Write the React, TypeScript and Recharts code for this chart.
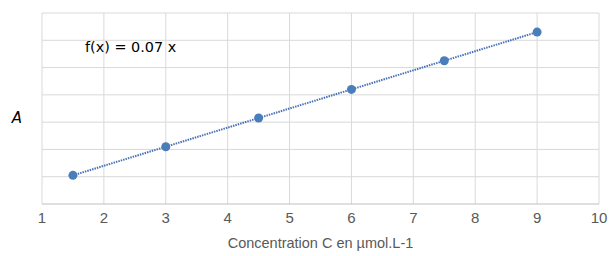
import { ComposedChart, Line, Scatter, XAxis, YAxis, CartesianGrid, ReferenceLine } from 'recharts';

const concentrations = [1.5, 3, 4.5, 6, 7.5, 9];
const absorbances = [0.105, 0.21, 0.315, 0.42, 0.525, 0.63];
const xTicks = [1, 2, 3, 4, 5, 6, 7, 8, 9, 10];
const yTicks = [0, 0.1, 0.2, 0.3, 0.4, 0.5, 0.6, 0.7];
const equation = 'f(x) = 0.07 x';
const xTitle = 'Concentration C en µmol.L-1';
const yTitle = 'A';

const data = concentrations.map((c, i) => ({ c, a: absorbances[i] }));

export default function App() {
  return (
    <div style={{ position: 'absolute', left: 0, top: 0, background: '#fff' }}>
      <ComposedChart width={610} height={256} data={data} margin={{ top: 13, right: 11, left: 0, bottom: 0 }}>
        <CartesianGrid stroke="#d9d9d9" strokeWidth={1} horizontal={false} verticalValues={xTicks} />
        {/* horizontal grid drawn as reference lines, the bottom one is the axis */}
        {yTicks.filter((v) => v > 0).map((v) => (
          <ReferenceLine key={v} y={v} stroke="#d9d9d9" strokeWidth={1} />
        ))}
        <XAxis
          dataKey="c"
          type="number"
          domain={[1, 10]}
          ticks={xTicks}
          interval={0}
          height={52}
          tickLine={false}
          axisLine={{ stroke: '#bfbfbf' }}
          tick={{ fill: '#595959', fontSize: 15, fontFamily: 'Liberation Sans, Arial, sans-serif' }}
          label={{
            value: xTitle,
            position: 'insideBottom',
            offset: 8,
            fill: '#595959',
            fontSize: 14.5,
            fontFamily: 'Liberation Sans, Arial, sans-serif',
          }}
        />
        <YAxis
          type="number"
          domain={[0, 0.7]}
          ticks={yTicks}
          width={42}
          tick={false}
          tickLine={false}
          axisLine={false}
          label={{
            content: () => (
              <text x={17} y={123} textAnchor="middle" fontSize={15} fontStyle="italic" fill="#000"
                fontFamily="DejaVu Sans, sans-serif">
                {yTitle}
              </text>
            ),
          }}
        />
        <Line
          dataKey="a"
          type="linear"
          stroke="#4a72b8"
          strokeWidth={2}
          strokeDasharray="1.5 1"
          dot={false}
          activeDot={false}
          isAnimationActive={false}
        />
        <Scatter dataKey="a" fill="#4a7ebb" shape={(p: any) => <circle cx={p.cx} cy={p.cy} r={4.5} fill="#4a7ebb" />} isAnimationActive={false} />
        <text x={85} y={52} fontSize={14.4} fill="#000" fontFamily="DejaVu Sans, sans-serif">
          {equation}
        </text>
      </ComposedChart>
    </div>
  );
}
